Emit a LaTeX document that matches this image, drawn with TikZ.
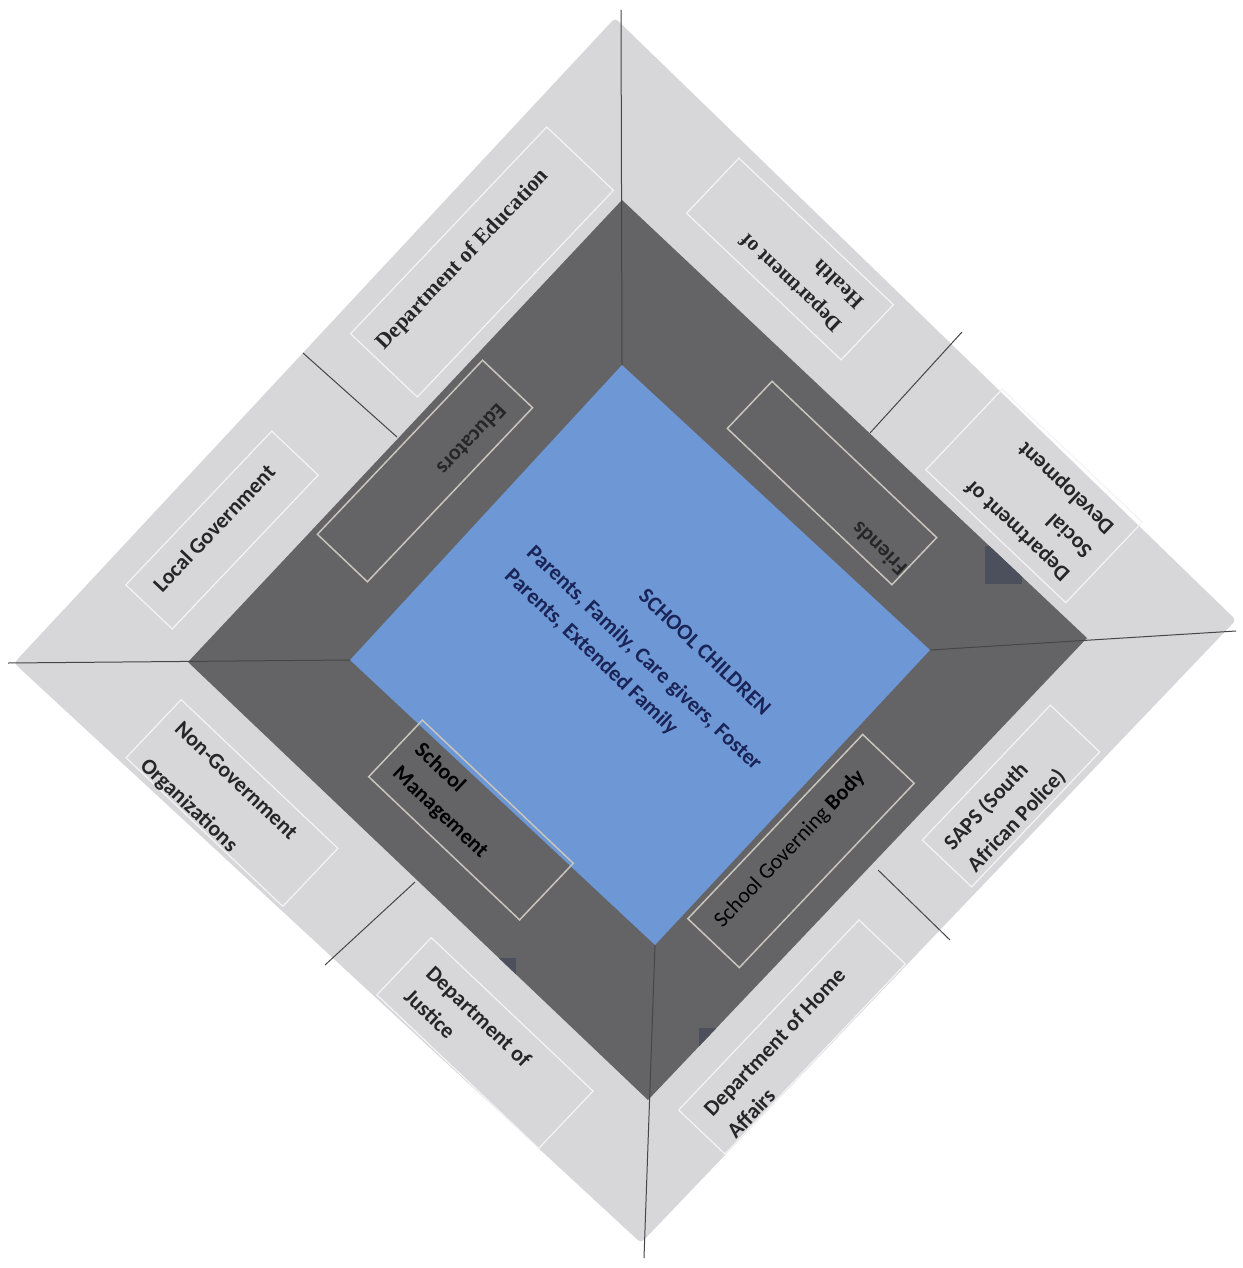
\documentclass[tikz,border=0pt]{standalone}
\usepackage{fontspec}
\setmainfont{Carlito}
\newfontfamily\serifbold{Liberation Serif}
\definecolor{outerband}{RGB}{215,215,217}
\definecolor{innerband}{RGB}{100,100,103}
\definecolor{coreblue}{RGB}{110,151,214}
\definecolor{segline}{RGB}{70,70,72}
\definecolor{boxline}{RGB}{200,198,188}
\definecolor{lightline}{RGB}{244,244,244}
\definecolor{txt}{RGB}{38,38,40}
\definecolor{navy}{RGB}{26,36,86}
\definecolor{artif}{RGB}{76,80,92}
\begin{document}
\begin{tikzpicture}[x=1pt,y=-1pt,
  seg/.style={draw=segline, line width=1pt},
  bandbox/.style={draw=lightline, line width=1.2pt, rectangle, inner sep=0pt},
  innerbox/.style={draw=boxline, line width=1.5pt, rectangle, inner sep=0pt},
  lbl/.style={font=\bfseries\fontsize{22}{32}\selectfont, text=txt, align=left, inner sep=0pt},
  serlbl/.style={font=\serifbold\bfseries\fontsize{22}{28}\selectfont, text=txt, align=left, inner sep=0pt},
  corelbl/.style={font=\bfseries\fontsize{22}{32}\selectfont, text=navy, align=left, inner sep=0pt}]
\useasboundingbox (0,0) rectangle (1242,1268);
\fill[white] (0,0) rectangle (1242,1268);
% vertices
\coordinate (oT) at (615,18);
\coordinate (oR) at (1236,620);
\coordinate (oB) at (641,1243);
\coordinate (oL) at (14,663);
\coordinate (dT) at (622,200);
\coordinate (dR) at (1087,638);
\coordinate (dB) at (648,1100);
\coordinate (dL) at (188,662);
\coordinate (bT) at (622,365);
\coordinate (bR) at (930,650);
\coordinate (bB) at (655,945);
\coordinate (bL) at (350,660);
% diamonds
\fill[outerband, rounded corners=4pt] (oT) -- (oR) -- (oB) -- (oL) -- cycle;
\fill[innerband] (dT) -- (dR) -- (dB) -- (dL) -- cycle;
\begin{scope}
\clip (dT) -- (dR) -- (dB) -- (dL) -- cycle;
\fill[artif] (985,546) rectangle (1022,584);
\fill[artif] (495,958) rectangle (516,975);
\fill[artif] (699,1028) rectangle (722,1055);
\end{scope}
\fill[coreblue] (bT) -- (bR) -- (bB) -- (bL) -- cycle;
% dividing lines
\coordinate (eT) at (621,10);
\coordinate (eL) at (8,663);
\coordinate (eR) at (1236,631);
\coordinate (eB) at (644,1258);
\draw[seg] (eT) -- (bT);
\draw[seg] (eL) -- (bL);
\draw[seg] (bR) -- (eR);
\draw[seg] (bB) -- (eB);
\coordinate (ulA) at (303,353);
\coordinate (ulB) at (397,437);
\coordinate (urA) at (962,332);
\coordinate (urB) at (870,433);
\coordinate (llA) at (415,882);
\coordinate (llB) at (325,965);
\coordinate (lrA) at (878,870);
\coordinate (lrB) at (950,940);
\draw[seg] (ulA) -- (ulB);
\draw[seg] (urA) -- (urB);
\draw[seg] (llA) -- (llB);
\draw[seg] (lrA) -- (lrB);
% boxes in outer band
\node[bandbox, minimum width=285pt, minimum height=92pt, rotate=46.5] (bxEdu) at (482,262) {};
\node[bandbox, minimum width=213pt, minimum height=76pt, rotate=136.5] (bxHealth) at (790,259) {};
\node[bandbox, minimum width=193pt, minimum height=111pt, rotate=136.5] (bxSoc) at (1034,496) {};
\node[bandbox, minimum width=212pt, minimum height=64pt, rotate=46.5] (bxLG) at (222,530) {};
\node[bandbox, minimum width=216pt, minimum height=80pt, rotate=-43.5] (bxNG) at (232,803) {};
\node[bandbox, minimum width=186pt, minimum height=68pt, rotate=46.5] (bxSAPS) at (1011,796) {};
\node[bandbox, minimum width=223pt, minimum height=79pt, rotate=-43.5] (bxJus) at (485,1043) {};
\node[bandbox, minimum width=262pt, minimum height=64pt, rotate=46.5] (bxHome) at (792,1037) {};
% boxes in inner band
\node[innerbox, minimum width=240pt, minimum height=69pt, rotate=46.5] (bxEduc) at (425,471) {};
\node[innerbox, minimum width=227pt, minimum height=65pt, rotate=136.5] (bxFri) at (832,483) {};
\node[innerbox, minimum width=208pt, minimum height=78pt, rotate=-43.5] (bxSM) at (471,820) {};
\node[innerbox, minimum width=254pt, minimum height=71pt, rotate=46.5] (bxSGB) at (801,851) {};
% labels
\node[serlbl, rotate=46.5] (tEdu) at (463,260) {Department of Education};
\node[serlbl, font=\serifbold\bfseries\fontsize{21}{32}\selectfont, rotate=136.5] (tHealth) at (801,272) {Department of\\Health};
\node[lbl, rotate=136.5] (tSoc) at (1040,507) {Department of\\Social\\Development};
\node[lbl, rotate=46.5] (tLG) at (214,528) {Local Government};
\node[lbl, rotate=226.5] (tEduc) at (472,440) {Educators};
\node[lbl, rotate=136.5] (tFri) at (879,549) {Friends};
\node[lbl, font=\bfseries\fontsize{22}{50}\selectfont, rotate=-43.5] (tNG) at (218,800) {Non-Government\\Organizations};
\node[lbl, text=black, rotate=-43.5] (tSM) at (451,801) {School\\Management};
\node[lbl, text=black, rotate=46.5] (tSGB) at (790,849) {\mdseries School Governing \bfseries Body};
\node[lbl, rotate=46.5] (tSAPS) at (1005,810) {SAPS (South\\African Police)};
\node[lbl, rotate=-43.5] (tJus) at (468,1028) {Department of\\Justice};
\node[lbl, rotate=46.5] (tHome) at (786,1053) {Department of Home\\Affairs};
\node[corelbl, rotate=-43.5] (tSC) at (705,652) {SCHOOL CHILDREN};
\node[corelbl, rotate=-43.5] (tPar) at (633,670) {Parents, Family, Care givers, Foster\\Parents, Extended Family};
\end{tikzpicture}
\end{document}
